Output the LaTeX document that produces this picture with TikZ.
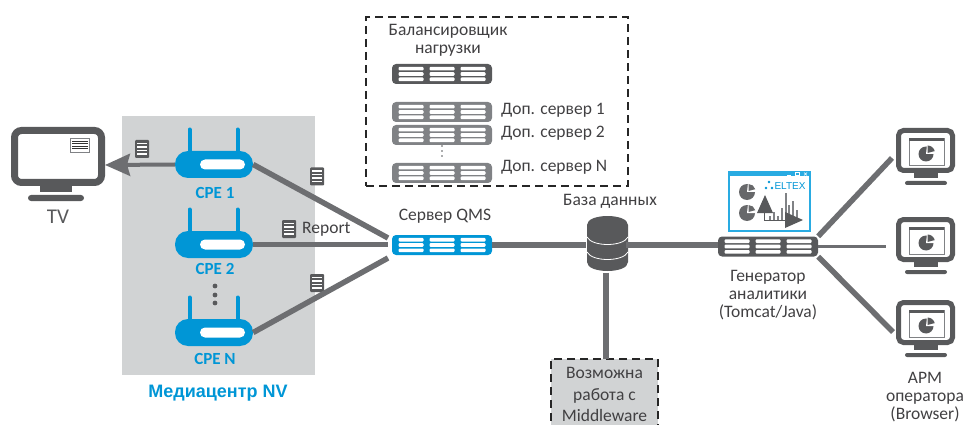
\documentclass[tikz,border=0pt]{standalone}
\usepackage{fontspec}
\setmainfont{Carlito}
\newfontfamily\arialfont{Liberation Sans}
\usetikzlibrary{arrows.meta}
\definecolor{textgrey}{HTML}{414042}
\definecolor{darkgrey}{HTML}{58595B}
\definecolor{midgrey}{HTML}{808285}
\definecolor{linegrey}{HTML}{6D6E71}
\definecolor{lightgrey}{HTML}{D1D3D4}
\definecolor{eltexblue}{HTML}{0096D6}
\definecolor{skyblue}{HTML}{29ABE2}

\begin{document}
\begin{tikzpicture}[x=1pt,y=-1pt]
	\tikzstyle{label}=[text=textgrey,inner sep=0pt,align=center,font=\fontsize{17.5}{18}\selectfont]
	\tikzstyle{cpelabel}=[text=eltexblue,inner sep=0pt,font=\fontsize{17}{18}\selectfont\bfseries]
	\tikzstyle{server}=[rectangle,rounded corners=4pt,minimum width=100pt,minimum height=20pt,inner sep=0pt]
	\tikzstyle{router}=[rectangle,rounded corners=13pt,fill=eltexblue,minimum width=78pt,minimum height=27pt,inner sep=0pt]
	\tikzstyle{screen}=[rectangle,rounded corners=5pt,draw=darkgrey,fill=white,inner sep=0pt]
	\tikzstyle{dashbox}=[rectangle,draw=black!85,line width=1.8pt,dash pattern=on 8pt off 5pt,inner sep=0pt]
	\tikzstyle{link}=[draw=linegrey,line width=5.5pt]
	\useasboundingbox (0,0) rectangle (967,425);

	\fill[lightgrey] (122,116) rectangle (315,375);
	\node[dashbox,minimum width=262pt,minimum height=169pt] (pool) at (497,101.5) {};
	\node[dashbox,fill=lightgrey,minimum width=107pt,minimum height=70pt] (mware) at (604.5,394) {};

	\node[label] (balancer) at (448,40) {Балансировщик\\нагрузки};
	\node[label,anchor=west] (extra1) at (501,110) {Доп. сервер 1};
	\node[label,anchor=west] (extra2) at (501,133) {Доп. сервер 2};
	\node[label,anchor=west] (extran) at (501,167) {Доп. сервер N};
	\node[label] (qmslabel) at (445,216) {Сервер QMS};
	\node[label] (dblabel) at (610,201) {База данных};
	\node[label,font=\fontsize{17.5}{21.5}\selectfont] (mwarelabel) at (604.5,394.5) {Возможна\\работа с\\Middleware};
	\node[label] (genlabel) at (768,295) {Генератор\\аналитики\\(Tomcat/Java)};
	\node[label] (armlabel) at (925,397) {АРМ\\оператора\\(Browser)};
	\node[label,text=darkgrey,font=\fontsize{21}{24}\selectfont] (tvlabel) at (58,217) {TV};
	\node[label,anchor=west] (report) at (302,229) {Report};
	\node[text=eltexblue,inner sep=0pt,font=\arialfont\fontsize{18}{19}\selectfont\bfseries] (center) at (218,393) {Медиацентр NV};

	\foreach \name/\x/\y/\col in {lb/442/74/darkgrey,sr1/442/112/midgrey,sr2/442/135/midgrey,srn/442/173/midgrey,qms/442/245/eltexblue,gen/768/246.5/darkgrey}{
		\node[server,fill=\col] (\name) at (\x,\y) {};
		\begin{scope}[shift={(\x,\y)}]
			\foreach \cx in {-31,0,31}
				\foreach \cy in {-5.3,0,5.3}
					\fill[white,rounded corners=1pt] (\cx-12.5,\cy-1.8) rectangle (\cx+12.5,\cy+1.8);
		\end{scope}
	}
	\foreach \cy in {146,151,156}
		\fill[darkgrey] (442,\cy) circle (0.8);

	\foreach \name/\y/\txt/\ty in {cpe1/164.5/CPE 1/193,cpe2/244.5/CPE 2/269,cpen/332.5/CPE N/359}{
		\node[router] (\name) at (214,\y) {};
		\node[cpelabel] (\name label) at (215,\ty) {\txt};
		\begin{scope}[shift={(214,\y)}]
			\fill[white,rounded corners=5pt] (-14,-5) rectangle (31,5);
			\draw[eltexblue,line width=4pt,line cap=round] (-24.5,-13) -- (-24.5,-35);
			\draw[eltexblue,line width=4pt,line cap=round] (23.5,-13) -- (23.5,-35);
		\end{scope}
	}
	\foreach \cy in {286,295,303}
		\fill[darkgrey] (215,\cy) circle (2.4);

	\node[screen,line width=7pt,rounded corners=7pt,minimum width=87pt,minimum height=52pt] (tv) at (58,156.5) {};
	\fill[darkgrey] (40,186) rectangle (72,192);
	\fill[darkgrey,rounded corners=3pt] (28,195) rectangle (84,201);
	\draw[midgrey,fill=white,line width=0.7pt] (70.5,138) rectangle (89.5,152);
	\foreach \cy in {141,143.5,146,148.5}
		\draw[black!80,line width=0.6pt] (72,\cy) -- (88,\cy);

	\foreach \name/\y in {mon1/128,mon2/217,mon3/300}{
		\node[screen,line width=5pt,minimum width=54pt,minimum height=40pt] (\name) at (925.5,\y+22.5) {};
		\begin{scope}[shift={(0,\y)}]
			\fill[darkgrey] (914,45) rectangle (938,50);
			\fill[darkgrey,rounded corners=2pt] (905,53) rectangle (947,57);
			\draw[midgrey,line width=0.7pt] (909,10) rectangle (944,37);
			\fill[darkgrey] (909,10) rectangle (944,13);
			\fill[darkgrey] (926,26) -- (926,18.5) arc[start angle=90,end angle=-340,radius=7.5,x radius=7.5,y radius=-7.5] -- cycle;
			\fill[white] (926,26) -- (927,17) -- (936,17) -- (936,26) -- cycle;
			\fill[darkgrey] (927.5,25) -- (927.5,17.5) arc[start angle=90,end angle=15,x radius=7.5,y radius=-7.5] -- cycle;
		\end{scope}
	}

	\foreach \name/\x/\y in {doc1/142/149,doc2/317/176.5,doc3/289/229,doc4/317/283}{
		\node[rectangle,rounded corners=1pt,fill=darkgrey,minimum width=14pt,minimum height=18pt,inner sep=0pt] (\name) at (\x,\y) {};
		\begin{scope}[shift={(\x,\y)}]
			\foreach \cy in {-5.5,-2,1.5,5}
				\fill[white] (-5,\cy-0.6) rectangle (5,\cy+0.6);
		\end{scope}
	}

	\node[rectangle,inner sep=0pt,minimum width=40pt,minimum height=55pt] (db) at (606,245) {};
	\fill[darkgrey] (587,225) .. controls (587,213) and (628,213) .. (628,225) -- (628,262) .. controls (628,274) and (587,274) .. (587,262) -- cycle;
	\draw[white,line width=0.8pt] (587,237) .. controls (592,247) and (623,247) .. (628,237);
	\draw[white,line width=0.8pt] (587,252) .. controls (592,262) and (623,262) .. (628,252);

	\node[rectangle,draw=skyblue,line width=2.4pt,fill=white,minimum width=81pt,minimum height=59pt,inner sep=0pt] (window) at (769.5,201.5) {};
	\fill[skyblue] (728,171) rectangle (811,176);
	\draw[white,line width=0.6pt] (787,175) -- (791,175);
	\draw[white,line width=0.6pt] (795,172.5) rectangle (799,175);
	\draw[white,line width=0.6pt] (804,172.5) -- (807,175.5) (807,172.5) -- (804,175.5);
	\node[text=eltexblue,inner sep=0pt,font=\arialfont\fontsize{10}{10}\selectfont] (eltex) at (790,186) {ELTEX};
	\foreach \dx/\dy in {769/182,766/188,772/188}
		\fill[eltexblue] (\dx,\dy) circle (1.4);
	\foreach \py in {192,213}{
		\begin{scope}[shift={(747,\py)}]
			\fill[midgrey!80!black] (0,0) -- (0,-8) arc[start angle=90,end angle=-340,x radius=8,y radius=-8] -- cycle;
			\fill[white] (0,0) -- (1,-9) -- (9,-9) -- (9,0) -- cycle;
			\fill[midgrey!80!black] (1.5,-1) -- (1.5,-8) arc[start angle=90,end angle=15,x radius=7,y radius=-7] -- cycle;
		\end{scope}
	}
	\foreach \bx/\by in {770/216,774/212,778/216,782/208,786/193,789/205,793/201,797/210}
		\draw[midgrey,line width=1.4pt] (\bx,220) -- (\bx,\by);
	\draw[darkgrey,line width=0.8pt] (764,205) -- (764,220) -- (785,220);
	\fill[darkgrey] (765,195) -- (773,213) -- (757,213) -- cycle;
	\fill[darkgrey] (803,220) -- (785,228) -- (785,212) -- cycle;

	\coordinate (tvin) at (105,165);
	\coordinate (qmsin1) at (388,238);
	\coordinate (qmsin2) at (388,244.5);
	\coordinate (qmsin3) at (388,258);
	\coordinate (genin) at (718,245);
	\coordinate (mwarein) at (606,359);
	\coordinate (mon1in) at (892,158);
	\coordinate (mon2in) at (886,246.5);
	\coordinate (mon3in) at (893,332);
	\path[-{Stealth[length=25pt,width=22pt,inset=3pt]},draw=linegrey,fill=linegrey,line width=4pt] (cpe1.west) -- (tvin);
	\draw[link] (cpe1.east) -- (qmsin1);
	\draw[link] (cpe2.east) -- (qmsin2);
	\draw[link] (cpen.east) -- (qmsin3);
	\draw[link] (qms.east) -- (db.west);
	\draw[link] (db.east) -- (genin);
	\draw[link] (db.south) -- (mwarein);
	\draw[link] (gen.north east) -- (mon1in);
	\draw[link,line width=3pt] (gen.east) -- (mon2in);
	\draw[link] (gen.south east) -- (mon3in);
\end{tikzpicture}
\end{document}
